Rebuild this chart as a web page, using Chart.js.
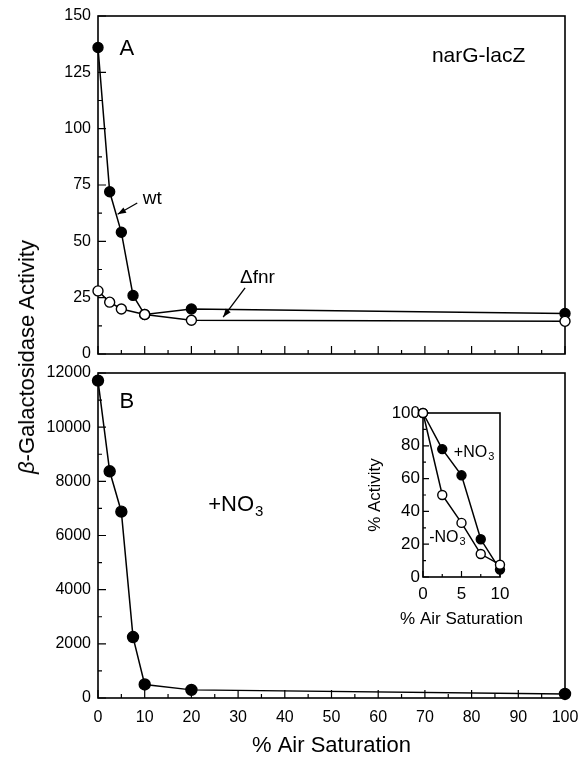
<!DOCTYPE html>
<html>
<head>
<meta charset="utf-8">
<script src="https://cdn.jsdelivr.net/npm/chart.js@4.4.0/dist/chart.umd.min.js"></script>
<style>
  html, body { margin: 0; padding: 0; background: #fff; }
  #wrap { position: relative; width: 579px; height: 761px; overflow: hidden; }
  canvas { position: absolute; }
  #panelA { left: 0; top: 0; }
  #panelB { left: 0; top: 362px; }
  #inset { left: 360px; top: 400px; }
  #ytitle {
    position: absolute; left: 27px; top: 357px;
    transform: translate(-50%, -50%) rotate(-90deg);
    font: 22px "Liberation Sans", Arial, sans-serif;
    white-space: nowrap; color: #000;
  }
</style>
</head>
<body>
<div id="wrap">
  <canvas id="panelA" width="579" height="362"></canvas>
  <canvas id="panelB" width="579" height="399"></canvas>
  <canvas id="inset" width="190" height="232"></canvas>
  <div id="ytitle"><i>β</i>-Galactosidase Activity</div>
</div>
<script>
// panel A : narG-lacZ, wt vs fnr mutant
const wtX = [0, 2.5, 5, 7.5, 10, 20, 100];
const wtY = [136, 72, 54, 26, 17.5, 20, 18];
const fnrX = [0, 2.5, 5, 10, 20, 100];
const fnrY = [28, 23, 20, 17.5, 15, 14.5];

// panel B : +NO3
const nitX = [0, 2.5, 5, 7.5, 10, 20, 100];
const nitY = [11720, 8370, 6880, 2250, 500, 300, 150];

// inset : % activity
const insetX = [0, 2.5, 5, 7.5, 10];
const plusNO3 = [100, 78, 62, 23, 4.5];
const minusNO3 = [100, 50, 33, 14, 7.5];

const FONT = '"Liberation Sans", Arial, sans-serif';
Chart.defaults.font.family = FONT;
Chart.defaults.color = '#000';

function pts(xs, ys) {
    return xs.map((x, i) => ({x: x, y: ys[i]}));
}

function series(xs, ys, open, r) {
    return {
        data: pts(xs, ys),
        showLine: true,
        borderColor: '#000',
        borderWidth: 1.5,
        pointRadius: r,
        pointBorderWidth: 1.4,
        pointBorderColor: '#000',
        pointBackgroundColor: open ? '#fff' : '#000',
        clip: false
    };
}

// frame round the plot + inward tick marks
function frame(xMajor, yMajor, long, short) {
    const isMajor = (v, m) => Math.abs(v / m - Math.round(v / m)) < 1e-6;
    return {
        id: 'frame',
        beforeDatasetsDraw(chart) {
            const {ctx, chartArea: a, scales: {x, y}} = chart;
            ctx.save();
            ctx.strokeStyle = '#000';
            ctx.lineWidth = 1.6;
            ctx.strokeRect(a.left, a.top, a.right - a.left, a.bottom - a.top);
            ctx.lineWidth = 1.2;
            ctx.beginPath();
            x.ticks.forEach(t => {
                const px = x.getPixelForValue(t.value);
                const l = isMajor(t.value, xMajor) ? long : short;
                ctx.moveTo(px, a.bottom);
                ctx.lineTo(px, a.bottom - l);
            });
            y.ticks.forEach(t => {
                const py = y.getPixelForValue(t.value);
                const l = isMajor(t.value, yMajor) ? long : short;
                ctx.moveTo(a.left, py);
                ctx.lineTo(a.left + l, py);
            });
            ctx.stroke();
            ctx.restore();
        }
    };
}

// text labels and arrows placed in data units
function notes(items) {
    return {
        id: 'notes',
        afterDatasetsDraw(chart) {
            const {ctx, scales: {x, y}} = chart;
            ctx.save();
            ctx.fillStyle = '#000';
            ctx.strokeStyle = '#000';
            items.forEach(n => {
                if (n.arrow) {
                    const x1 = x.getPixelForValue(n.arrow[0]), y1 = y.getPixelForValue(n.arrow[1]);
                    const x2 = x.getPixelForValue(n.arrow[2]), y2 = y.getPixelForValue(n.arrow[3]);
                    const ang = Math.atan2(y2 - y1, x2 - x1);
                    ctx.lineWidth = 1.3;
                    ctx.beginPath();
                    ctx.moveTo(x1, y1);
                    ctx.lineTo(x2, y2);
                    ctx.stroke();
                    ctx.beginPath();
                    ctx.moveTo(x2, y2);
                    ctx.lineTo(x2 - 9 * Math.cos(ang - 0.35), y2 - 9 * Math.sin(ang - 0.35));
                    ctx.lineTo(x2 - 9 * Math.cos(ang + 0.35), y2 - 9 * Math.sin(ang + 0.35));
                    ctx.closePath();
                    ctx.fill();
                    return;
                }
                const px = x.getPixelForValue(n.x), py = y.getPixelForValue(n.y);
                ctx.font = n.size + 'px ' + FONT;
                ctx.textAlign = n.align || 'left';
                ctx.textBaseline = 'middle';
                ctx.fillText(n.text, px, py);
                if (n.sub) {
                    const w = ctx.measureText(n.text).width;
                    ctx.font = Math.round(n.size * 0.7) + 'px ' + FONT;
                    ctx.fillText(n.sub, px + w + 1, py + n.size * 0.3);
                }
            });
            ctx.restore();
        }
    };
}

function axis(min, max, step, every, size, opts) {
    return Object.assign({
        type: 'linear',
        min: min,
        max: max,
        grid: {display: false, drawTicks: false},
        border: {display: false},
        ticks: {
            stepSize: step,
            autoSkip: false,
            maxRotation: 0,
            font: {size: 16},
            callback: v => Math.abs(v / every - Math.round(v / every)) < 1e-6 ? v : ''
        },
        afterFit(s) {
            if (s.isHorizontal()) s.height = size; else s.width = size;
            s.paddingLeft = s.paddingRight = s.paddingTop = s.paddingBottom = 0;
        }
    }, opts);
}

const base = {
    responsive: false,
    animation: false,
    events: [],
    plugins: {legend: {display: false}, tooltip: {enabled: false}}
};

// Panel A
const xA = axis(0, 100, 5, 10, 8);
xA.ticks.display = false;
const yA = axis(0, 150, 12.5, 25, 98);
yA.ticks.padding = 7;

new Chart(document.getElementById('panelA'), {
    type: 'scatter',
    data: {datasets: [series(fnrX, fnrY, true, 5), series(wtX, wtY, false, 5)]},
    options: Object.assign({}, base, {
        layout: {padding: {top: 16, right: 14, left: 0, bottom: 0}},
        scales: {x: xA, y: yA}
    }),
    plugins: [frame(10, 25, 8, 4), notes([
        {text: 'A', x: 4.6, y: 135.5, size: 22},
        {text: 'narG-lacZ', x: 71.5, y: 132, size: 21},
        {text: 'wt', x: 9.6, y: 69, size: 19},
        {arrow: [8.4, 67, 4.2, 62]},
        {text: 'Δfnr', x: 30.4, y: 34, size: 19},
        {arrow: [31.5, 29.3, 26.8, 16.4]}
    ])]
});

// Panel B
const xB = axis(0, 100, 5, 10, 63, {
    title: {display: true, text: '% Air Saturation', font: {size: 22}, padding: {top: 0, bottom: 2}}
});
xB.ticks.padding = 10;
const yB = axis(0, 12000, 1000, 2000, 98);
yB.ticks.padding = 7;

new Chart(document.getElementById('panelB'), {
    type: 'scatter',
    data: {datasets: [series(nitX, nitY, false, 5.5)]},
    options: Object.assign({}, base, {
        layout: {padding: {top: 11, right: 14, left: 0, bottom: 0}},
        scales: {x: xB, y: yB}
    }),
    plugins: [frame(10, 2000, 8, 4), notes([
        {text: 'B', x: 4.6, y: 10930, size: 22},
        {text: '+NO', sub: '3', x: 23.6, y: 7130, size: 22}
    ])]
});

// Inset
const xI = axis(0, 10, 2.5, 5, 55);
xI.ticks.padding = 7;
xI.ticks.font = {size: 17};
const yI = axis(0, 100, 10, 20, 63, {
    title: {display: true, text: '% Activity', font: {size: 17}, padding: {top: 5, bottom: 0}}
});
yI.ticks.padding = 3;
yI.ticks.font = {size: 17};

new Chart(document.getElementById('inset'), {
    type: 'scatter',
    data: {datasets: [series(insetX, minusNO3, true, 4.5), series(insetX, plusNO3, false, 4.5)]},
    options: Object.assign({}, base, {
        layout: {padding: {top: 13, right: 50, left: 0, bottom: 0}},
        scales: {x: xI, y: yI}
    }),
    plugins: [frame(5, 20, 6, 3), notes([
        {text: '+NO', sub: '3', x: 4.0, y: 76, size: 16},
        {text: '-NO', sub: '3', x: 0.8, y: 24, size: 16},
        {text: '% Air Saturation', x: 5, y: -25.6, size: 17, align: 'center'}
    ])]
});
</script>
</body>
</html>
